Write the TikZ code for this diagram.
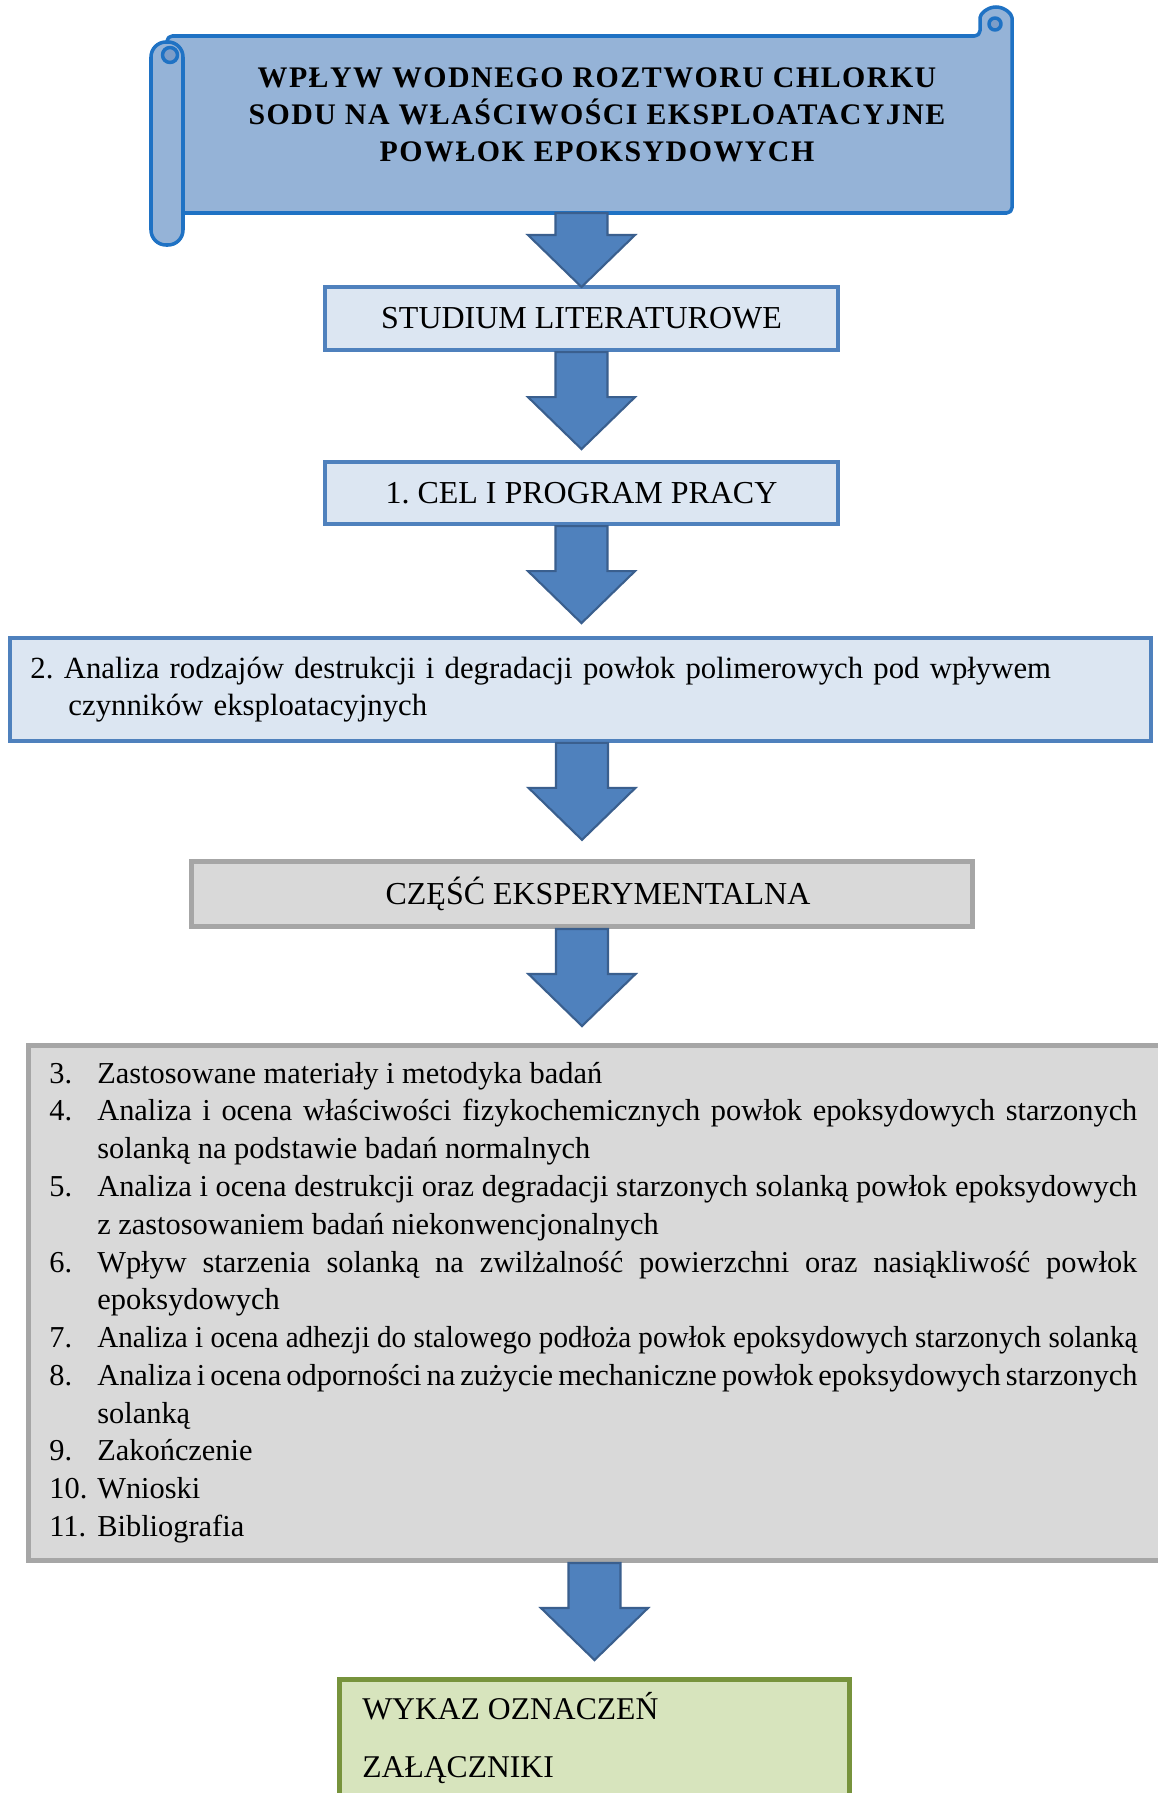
\documentclass[tikz,border=0pt]{standalone}
\usepackage{graphicx}
\usepackage{fontspec}
\setmainfont{Liberation Serif}
\newfontfamily\titlefont{Liberation Serif}[LetterSpace=5]
\usetikzlibrary{calc,positioning}
\definecolor{scrollFill}{HTML}{95B3D7}
\definecolor{scrollLine}{HTML}{1F72C4}
\definecolor{scrollDark}{HTML}{7D9DC8}
\definecolor{stageFill}{HTML}{DCE6F2}
\definecolor{stageLine}{HTML}{4F81BD}
\definecolor{arrowFill}{HTML}{4F81BD}
\definecolor{arrowLine}{HTML}{3A5F8E}
\definecolor{partFill}{HTML}{D9D9D9}
\definecolor{partLine}{HTML}{A6A6A6}
\definecolor{annexFill}{HTML}{D7E4BD}
\definecolor{annexLine}{HTML}{77933C}

% block arrow pointing down: start point, shaft length
\newcommand{\fatarrow}[2]{%
  \draw[fat] ($(#1)+(-0.52,0)$) -- ++(0,-#2) -- ++(-0.55,0) -- ++(1.07,-1.04)
    -- ++(1.07,1.04) -- ++(-0.55,0) -- ++(0,#2) -- cycle;}
% one numbered item of the list
\newcommand{\pozycja}[2]{\par\noindent\hangindent=0.96cm\hangafter=1\makebox[0.96cm][l]{#1}#2}

\begin{document}
\frenchspacing
\begin{tikzpicture}[
  scroll/.style={draw=scrollLine, fill=scrollFill, line width=2pt, line join=round},
  title/.style={font=\titlefont\bfseries\fontsize{17pt}{21pt}\selectfont, align=center},
  stage/.style={draw=stageLine, fill=stageFill, line width=2.4pt, inner sep=0pt,
    font=\fontsize{18.2pt}{21pt}\selectfont},
  part/.style={draw=partLine, fill=partFill, line width=2.6pt, inner sep=0pt,
    font=\fontsize{18.2pt}{21pt}\selectfont},
  annex/.style={draw=annexLine, fill=annexFill, line width=2.6pt, inner sep=0pt},
  plain/.style={font=\fontsize{18pt}{21pt}\selectfont, inner sep=0pt},
  fat/.style={draw=arrowLine, fill=arrowFill, line width=1.2pt, line join=miter}
]
\useasboundingbox (0,0) rectangle (23.16,-35.86);
\clip (0,0) rectangle (23.16,-35.86);
\fill[white] (0,0) rectangle (23.16,-35.86);

% ---------------- title scroll ----------------
\draw[scroll, rounded corners=3pt] (3.34,-0.72) -- (19.60,-0.72) -- (19.60,-0.46)
  arc[start angle=180, end angle=0, radius=0.32] -- (20.24,-4.26) -- (3.34,-4.26) -- cycle;
\draw[scroll, fill=scrollDark] (19.90,-0.48) circle (0.12);
\draw[scroll, rounded corners=0.3cm] (3.02,-0.84) rectangle (3.66,-4.90);
\draw[scroll, fill=scrollDark] (3.40,-1.10) circle (0.15);
\coordinate (scrollbot) at (11.94,-4.26);
\node[title] (title) at (11.94,-2.30)
  {WPŁYW WODNEGO ROZTWORU CHLORKU\\SODU NA WŁAŚCIWOŚCI EKSPLOATACYJNE\\POWŁOK EPOKSYDOWYCH};

% ---------------- stages ----------------
\node[stage, minimum width=10.26cm, minimum height=1.26cm] (studium) at (11.63,-6.37) {STUDIUM LITERATUROWE};
\node[stage, minimum width=10.26cm, minimum height=1.24cm] (cel) at (11.63,-9.86) {1. CEL I PROGRAM PRACY};
\node[stage, minimum width=22.81cm, minimum height=2.05cm, text width=22.0cm, align=left,
  font=\fontsize{17.5pt}{21pt}\selectfont] (analiza) at (11.61,-13.79)
  {2. Analiza rodzajów destrukcji i degradacji powłok polimerowych pod wpływem\\\hspace*{0.76cm}czynników eksploatacyjnych};
\node[part, minimum width=15.63cm, minimum height=1.31cm] (czesc) at (11.64,-17.88) {\hspace*{0.64cm}CZĘŚĆ EKSPERYMENTALNA};

% ---------------- chapters ----------------
\node[part, minimum width=23.39cm, minimum height=10.31cm] (rozdzialy) at (12.26,-26.06) {};
\node[anchor=north west, inner sep=0pt, text width=21.76cm, align=justify,
  font=\fontsize{17.3pt}{21.5pt}\selectfont] (lista) at (0.98,-20.90) {%
  \spaceskip=0.25em plus 0.5em minus 0.17em\relax
  \pozycja{3.}{Zastosowane materiały i metodyka badań}
  \pozycja{4.}{Analiza i ocena właściwości fizykochemicznych powłok epoksydowych starzonych\linebreak solanką na podstawie badań normalnych}
  \pozycja{5.}{Analiza i ocena destrukcji oraz degradacji starzonych solanką powłok epoksydowych\linebreak z zastosowaniem badań niekonwencjonalnych}
  \pozycja{6.}{Wpływ starzenia solanką na zwilżalność powierzchni oraz nasiąkliwość powłok\linebreak epoksydowych}
  \pozycja{7.}{\resizebox{20.8cm}{\height}{Analiza i ocena adhezji do stalowego podłoża powłok epoksydowych starzonych solanką}}
  \pozycja{8.}{Analiza i ocena odporności na zużycie mechaniczne powłok epoksydowych starzonych\linebreak solanką}
  \pozycja{9.}{Zakończenie}
  \pozycja{10.}{Wnioski}
  \pozycja{11.}{Bibliografia}};

% ---------------- annexes ----------------
\node[annex, minimum width=10.21cm, minimum height=3.37cm] (aneks) at (11.89,-35.27) {};
\node[plain, anchor=base west] (wykaz) at (7.24,-34.38) {WYKAZ OZNACZEŃ};
\node[plain, anchor=base west] (zal) at (7.24,-35.54) {ZAŁĄCZNIKI};

% ---------------- arrows ----------------
\fatarrow{studium.north |- scrollbot}{0.44}
\fatarrow{studium.south}{0.9}
\fatarrow{cel.south}{0.9}
\fatarrow{czesc.north |- analiza.south}{0.9}
\fatarrow{czesc.south}{0.9}
\fatarrow{aneks.north |- rozdzialy.south}{0.9}

\end{tikzpicture}
\end{document}
